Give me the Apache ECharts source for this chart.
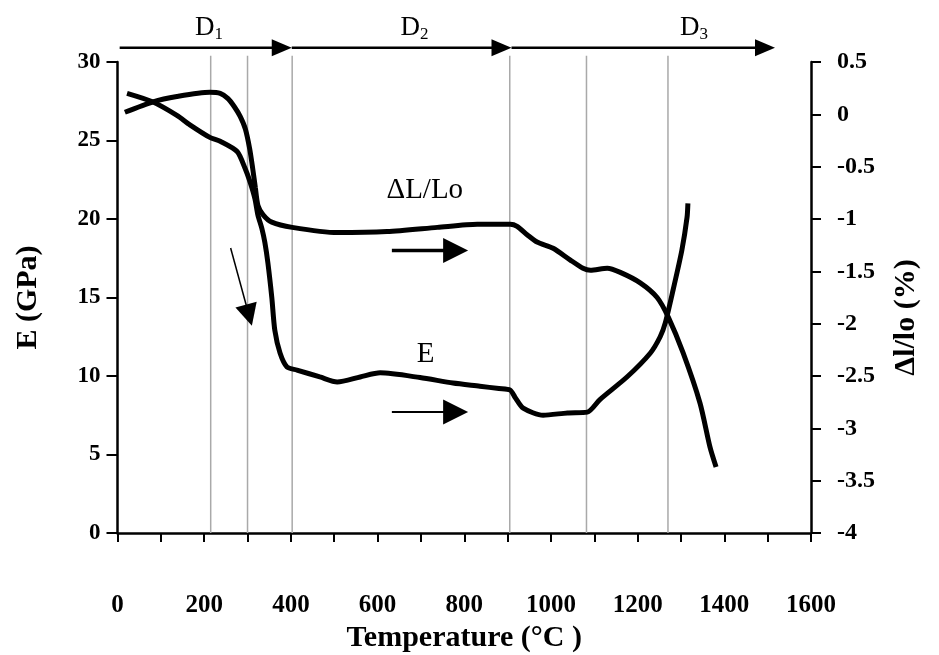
<!DOCTYPE html>
<html><head><meta charset="utf-8">
<script src="https://cdn.jsdelivr.net/npm/echarts@6/dist/echarts.min.js"></script>
<style>html,body{margin:0;padding:0;background:#fff}#c{width:939px;height:655px}</style>
</head><body><div id="c"></div>
<script>
// ---- data ----
const tempE = [22, 82, 137, 167, 213, 237, 276, 294, 306, 317, 324, 333, 340, 347, 356, 363, 375, 391, 414, 467, 507, 560, 606, 698, 774, 836, 880, 906, 917, 936, 982, 1038, 1084, 1113, 1176, 1229, 1252, 1264, 1282, 1302, 1314, 1316];
const modulusE = [28.0, 27.45, 26.6, 26.0, 25.2, 24.95, 24.3, 23.25, 22.35, 21.3, 20.25, 19.4, 18.5, 17.2, 15.0, 12.9, 11.46, 10.57, 10.38, 9.94, 9.62, 9.94, 10.2, 9.9, 9.55, 9.35, 9.2, 9.1, 8.65, 7.95, 7.5, 7.65, 7.7, 8.5, 9.95, 11.45, 12.5, 13.4, 15.5, 18.0, 20.1, 21.0];
const tempDL = [17, 82, 137, 213, 237, 255, 270, 283, 295, 305, 312, 318, 324, 336, 356, 403, 507, 622, 738, 830, 906, 922, 945, 968, 1005, 1044, 1074, 1091, 1130, 1160, 1206, 1245, 1271, 1305, 1344, 1367, 1381];
const shrinkDL = [0.02, 0.12, 0.17, 0.21, 0.20, 0.15, 0.07, -0.02, -0.14, -0.33, -0.52, -0.70, -0.87, -0.96, -1.03, -1.08, -1.13, -1.12, -1.08, -1.05, -1.05, -1.07, -1.15, -1.22, -1.28, -1.39, -1.47, -1.49, -1.47, -1.51, -1.61, -1.75, -1.94, -2.28, -2.76, -3.18, -3.37];
const boundaryTemps = [215, 300, 403, 905, 1082, 1270];
const boundaryTop = 30.4;
const phaseArrows = [[5, 30.9, 402, 30.9], [402, 30.9, 909, 30.9], [909, 30.9, 1517, 30.9]];
const phaseNames = ['1', '2', '3'];
const phaseNamePos = [[211, 32.2], [685, 32.2], [1330, 32.2]];
const curveNames = ['\u0394L/Lo', 'E'];
const curveNamePos = [[709, 21.85], [711, 11.4]];
const dlArrow = [[633, 18.0, 809, 18.0]];
const eArrow = [[633, 7.7, 809, 7.7]];
const coolArrow = [[261, 18.15, 310, 13.2]];
const xRange = [0, 1600], eRange = [0, 30], dlRange = [-4, 0.5];

// ---- chart ----
const FONT = '"Liberation Serif", "Times New Roman", serif';
const pair = (xs, ys) => xs.map((x, i) => [x, ys[i]]);

function arrowSeries(data, lw, headLen, headHalf) {
  return {
    type: 'custom', yAxisIndex: 0, silent: true, z: 5, clip: false,
    encode: { x: [0, 2], y: [1, 3] },
    data: data,
    renderItem: function (params, api) {
      const p1 = api.coord([api.value(0), api.value(1)]);
      const p2 = api.coord([api.value(2), api.value(3)]);
      const dx = p2[0] - p1[0], dy = p2[1] - p1[1], L = Math.hypot(dx, dy);
      const ux = dx / L, uy = dy / L, nx = -uy, ny = ux;
      const bx = p2[0] - ux * headLen, by = p2[1] - uy * headLen;
      return {
        type: 'group', children: [
          { type: 'line', shape: { x1: p1[0], y1: p1[1], x2: bx + ux * 2, y2: by + uy * 2 }, style: { stroke: '#000', lineWidth: lw } },
          { type: 'polygon', shape: { points: [[p2[0], p2[1]], [bx + nx * headHalf, by + ny * headHalf], [bx - nx * headHalf, by - ny * headHalf]] }, style: { fill: '#000' } }
        ]
      };
    }
  };
}

function textSeries(pos, texts, fontSize, rich) {
  return {
    type: 'custom', yAxisIndex: 0, silent: true, z: 6, clip: false,
    data: pos,
    renderItem: function (params, api) {
      const p = api.coord([api.value(0), api.value(1)]);
      return {
        type: 'text', x: p[0], y: p[1],
        style: { text: texts[params.dataIndex], fill: '#000', font: fontSize + 'px ' + FONT, align: 'center', verticalAlign: 'middle', rich: rich }
      };
    }
  };
}

const series = [];
boundaryTemps.forEach(t => {
  series.push({ type: 'line', yAxisIndex: 0, data: [[t, 0], [t, boundaryTop]], clip: false, symbol: 'none', silent: true, z: 1,
    lineStyle: { color: '#a9a9a9', width: 1.5 } });
});
series.push({ name: 'E', type: 'line', yAxisIndex: 0, data: pair(tempE, modulusE), symbol: 'none', smooth: 0.25, z: 3,
  lineStyle: { color: '#000', width: 5 } });
series.push({ name: 'dL', type: 'line', yAxisIndex: 1, data: pair(tempDL, shrinkDL), symbol: 'none', smooth: 0.25, z: 3,
  lineStyle: { color: '#000', width: 5 } });
series.push(arrowSeries(phaseArrows, 2.5, 20, 8.5));
series.push(arrowSeries(dlArrow, 3.5, 25, 12.5));
series.push(arrowSeries(eArrow, 2, 25, 12.5));
series.push(arrowSeries(coolArrow, 1.5, 22, 11));
series.push(textSeries(phaseNamePos, phaseNames.map(n => 'D{s|' + n + '}'), 27,
  { s: { fontSize: 17, fontFamily: FONT, verticalAlign: 'bottom', padding: [15, 0, 0, 0], lineHeight: 32 } }));
series.push(textSeries(curveNamePos, curveNames, 29));

const labelBase = { color: '#000', fontFamily: FONT, fontWeight: 'bold' };
const option = {
  animation: false,
  backgroundColor: '#fff',
  grid: { left: 117.5, right: 128, top: 62, bottom: 122, containLabel: false, outerBoundsMode: 'none' },
  xAxis: {
    type: 'value', min: xRange[0], max: xRange[1], interval: 200,
    name: 'Temperature (\u00B0C )', nameLocation: 'middle', nameGap: 84,
    nameTextStyle: Object.assign({ fontSize: 30 }, labelBase),
    axisLine: { lineStyle: { color: '#000', width: 2.5 } },
    axisTick: { inside: false, length: 9, lineStyle: { color: '#000', width: 2 } },
    minorTick: { show: true, splitNumber: 2, length: 9, lineStyle: { color: '#000', width: 2 } },
    axisLabel: Object.assign({ margin: 60, fontSize: 25, formatter: v => String(v) }, labelBase),
    splitLine: { show: false }
  },
  yAxis: [{
    type: 'value', position: 'left', min: eRange[0], max: eRange[1], interval: 5,
    name: 'E (GPa)', nameLocation: 'middle', nameGap: 74,
    nameTextStyle: Object.assign({ fontSize: 30 }, labelBase),
    axisLine: { show: true, lineStyle: { color: '#000', width: 2.5 } },
    axisTick: { show: true, inside: false, length: 11, lineStyle: { color: '#000', width: 2 } },
    axisLabel: Object.assign({ margin: 17, fontSize: 23 }, labelBase),
    splitLine: { show: false }
  }, {
    type: 'value', position: 'right', min: dlRange[0], max: dlRange[1], interval: 0.5,
    name: '\u0394l/lo (%)', nameLocation: 'middle', nameGap: 80,
    nameTextStyle: Object.assign({ fontSize: 30, padding: [0, 40, 0, 0] }, labelBase),
    axisLine: { show: true, lineStyle: { color: '#000', width: 2.5 } },
    axisTick: { show: true, inside: false, length: 10, lineStyle: { color: '#000', width: 2 } },
    axisLabel: Object.assign({ margin: 26, fontSize: 24 }, labelBase),
    splitLine: { show: false }
  }],
  series: series
};
const chart = echarts.init(document.getElementById('c'));
chart.setOption(option);
</script></body></html>
